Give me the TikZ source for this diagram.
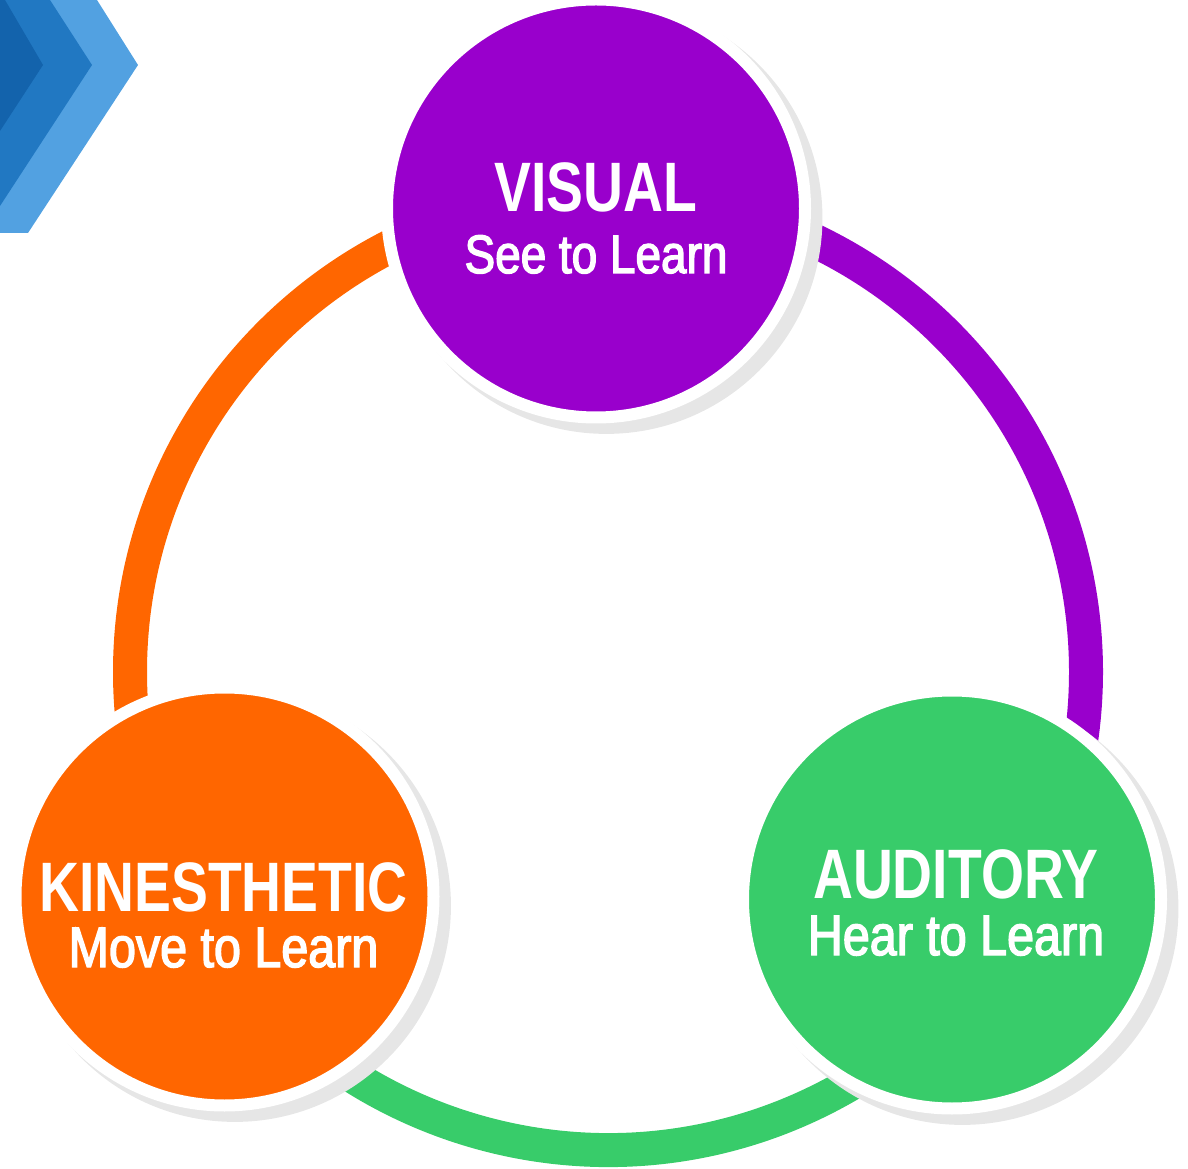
\documentclass[tikz,border=0pt]{standalone}
\usepackage{fontspec}
\usepackage{tikz}
\usetikzlibrary{shadows,backgrounds}
\newfontfamily\headfont[FakeStretch=0.79]{Liberation Sans}
\newfontfamily\subfont[FakeStretch=0.85,FakeBold=2.5]{Liberation Sans}
\definecolor{visualpurple}{RGB}{153,0,204}
\definecolor{kinorange}{RGB}{255,102,0}
\definecolor{audgreen}{RGB}{56,204,106}
\definecolor{shadowgray}{RGB}{230,230,230}
\definecolor{chevdark}{RGB}{19,99,172}
\definecolor{chevmid}{RGB}{33,120,194}
\definecolor{chevlight}{RGB}{82,161,225}

\begin{document}
\begin{tikzpicture}[x=1pt,y=1pt,
	stylebox/.style={circle, minimum size=418pt, inner sep=0pt, draw=white, line width=12pt,
		drop shadow={shadow xshift=10pt, shadow yshift=-9pt, shadow scale=1.034, fill=shadowgray, opacity=1}},
	ringarc/.style={line width=34pt},
	headtext/.style={text=white, anchor=base, font=\headfont\bfseries\fontsize{70}{72}\selectfont},
	subtext/.style={text=white, anchor=base, font=\subfont\fontsize{57}{60}\selectfont}]
	\useasboundingbox (0,0) rectangle (1188,1168);
	\fill [chevlight] (0,1168) -- (97,1168) -- (138,1103) -- (28,935) -- (0,935) -- cycle;
	\fill [chevmid] (0,1168) -- (50,1168) -- (92,1103) -- (0,962) -- cycle;
	\fill [chevdark] (0,1168) -- (5,1168) -- (43,1103) -- (0,1037) -- cycle;
	\coordinate (ring) at (608,496);
	\node [stylebox, fill=visualpurple] (vis) at (596,959.5) {};
	\node [stylebox, fill=kinorange] (kin) at (224.5,271.5) {};
	\node [stylebox, fill=audgreen] (aud) at (952,268.5) {};
	\begin{scope}[on background layer]
		\draw [ringarc, kinorange] (ring) ++(90:478) arc[start angle=90, end angle=212, radius=478];
		\draw [ringarc, visualpurple] (ring) ++(90:478) arc[start angle=90, end angle=-35, radius=478];
		\draw [ringarc, audgreen] (ring) ++(208:478) arc[start angle=208, end angle=330, radius=478];
	\end{scope}
	\node [headtext] (vistitle) at ([yshift=-3.5pt]vis.center) {VISUAL};
	\node [subtext, font=\subfont\fontsize{54}{56}\selectfont] (vissub) at ([yshift=-64.5pt]vis.center) {See to Learn};
	\node [headtext] (kintitle) at ([xshift=-1pt,yshift=-14.5pt]kin.center) {KINESTHETIC};
	\node [subtext] (kinsub) at ([xshift=-1pt,yshift=-70.5pt]kin.center) {Move to Learn};
	\node [headtext] (audtitle) at ([xshift=4pt,yshift=1.5pt]aud.center) {AUDITORY};
	\node [subtext] (audsub) at ([xshift=4pt,yshift=-55.5pt]aud.center) {Hear to Learn};
\end{tikzpicture}
\end{document}
